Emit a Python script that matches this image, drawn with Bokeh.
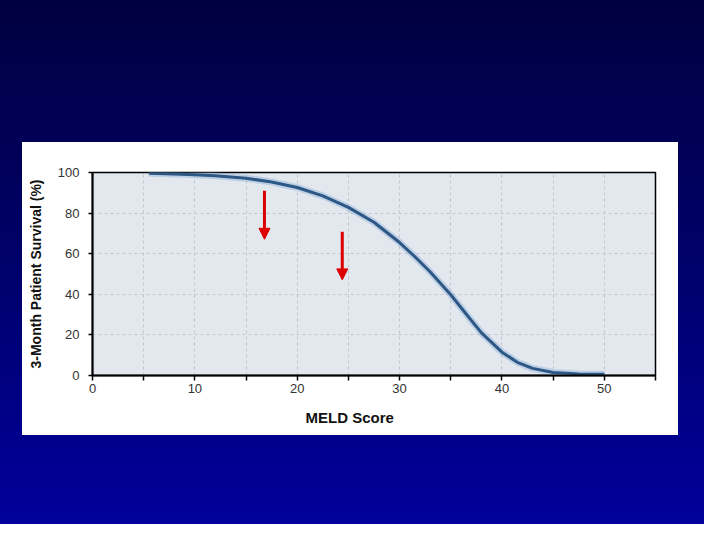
from bokeh.plotting import figure
from bokeh.models import Range1d, FixedTicker, Arrow, NormalHead, Title
from bokeh.embed import file_html
from bokeh.resources import INLINE

# ---- data ----
meld = [5.5, 8, 10, 12, 15, 17.5, 20, 22.5, 25, 27.5, 30, 31.5, 33, 35, 36.5, 38, 40, 41.5, 43, 45, 47.5, 50]
survival = [99.6, 99.3, 98.9, 98.4, 97.2, 95.3, 92.6, 88.5, 82.8, 75.5, 65.5, 58.5, 51.0, 39.8, 30.3, 21.0, 11.5, 6.5, 3.5, 1.5, 0.8, 0.6]

x_major = [0, 10, 20, 30, 40, 50]
x_minor = [5, 15, 25, 35, 45, 55]
y_major = [0, 20, 40, 60, 80, 100]

arrow_x = [16.8, 24.4]
arrow_y0 = [91.0, 70.8]
arrow_y1 = [67.1, 47.1]

FONT = "Liberation Sans"

p = figure(width=704, height=524, output_backend="svg", toolbar_location=None,
           x_range=Range1d(0, 55), y_range=Range1d(0, 100),
           min_border_left=92, min_border_right=49, min_border_top=172, min_border_bottom=149)

p.border_fill_color = None
p.background_fill_color = "#e3e8ef"
p.outline_line_color = "black"
p.outline_line_width = 1.5

p.styles = {
    "background": "linear-gradient(#ffffff, #ffffff) 22px 142px / 656px 293px no-repeat, "
                  "linear-gradient(180deg, #000040 0%, #00006a 50%, #00009c 100%)"
}

# axes
xa = p.xaxis[0]
xa.ticker = FixedTicker(ticks=x_major, minor_ticks=x_minor)
xa.axis_line_width = 2
xa.axis_line_color = "black"
xa.major_tick_out = 5
xa.major_tick_in = 0
xa.minor_tick_out = 5
xa.minor_tick_in = 0
xa.major_tick_line_width = 1.5
xa.minor_tick_line_width = 1.5
xa.minor_tick_line_color = "black"
xa.major_label_standoff = 3
xa.major_label_text_font = FONT
xa.major_label_text_font_size = "13px"
xa.major_label_text_color = "#333333"

ya = p.yaxis[0]
ya.ticker = FixedTicker(ticks=y_major)
ya.axis_line_width = 2
ya.axis_line_color = "black"
ya.major_tick_out = 4
ya.major_tick_in = 0
ya.major_tick_line_width = 1.5
ya.minor_tick_line_color = None
ya.major_label_standoff = 9
ya.major_label_text_font = FONT
ya.major_label_text_font_size = "13px"
ya.major_label_text_color = "#333333"
ya.axis_label = "3-Month Patient Survival (%)"
ya.axis_label_text_font = FONT
ya.axis_label_text_font_style = "bold"
ya.axis_label_text_font_size = "14px"
ya.axis_label_text_color = "#111111"
ya.axis_label_standoff = 11

# grid
p.xgrid.ticker = FixedTicker(ticks=x_major, minor_ticks=x_minor)
p.xgrid.grid_line_color = "#c4c6cc"
p.xgrid.grid_line_dash = "3 3"
p.xgrid.minor_grid_line_color = "#c4c6cc"
p.xgrid.minor_grid_line_dash = "3 3"
p.ygrid.ticker = FixedTicker(ticks=y_major)
p.ygrid.grid_line_color = "#c4c6cc"
p.ygrid.grid_line_dash = "3 3"

# curve with soft glow
p.line(meld, survival, line_color="#8fb2d8", line_width=7, line_alpha=0.45, line_join="round")
p.line(meld, survival, line_color="#2d5785", line_width=3, line_join="round")

# arrows
for ax, y0, y1 in zip(arrow_x, arrow_y0, arrow_y1):
    p.add_layout(Arrow(end=NormalHead(size=11, fill_color="#dd0000", line_color="#dd0000"),
                       x_start=ax, y_start=y0, x_end=ax, y_end=y1,
                       line_color="#dd0000", line_width=3))

# x axis title (slightly left of centre as in the reference)
p.add_layout(Title(text="MELD Score", align="left", offset=213, standoff=22,
                   text_font=FONT, text_font_style="bold", text_font_size="15px",
                   text_color="#111111"), "below")

html = file_html(p, INLINE)
html = html.replace("<body>", '<body style="background: linear-gradient(180deg, #000040 0%, #00006a 50%, #00009c 100%) fixed; min-height: 100vh;">', 1)
open("out.html", "w").write(html)
